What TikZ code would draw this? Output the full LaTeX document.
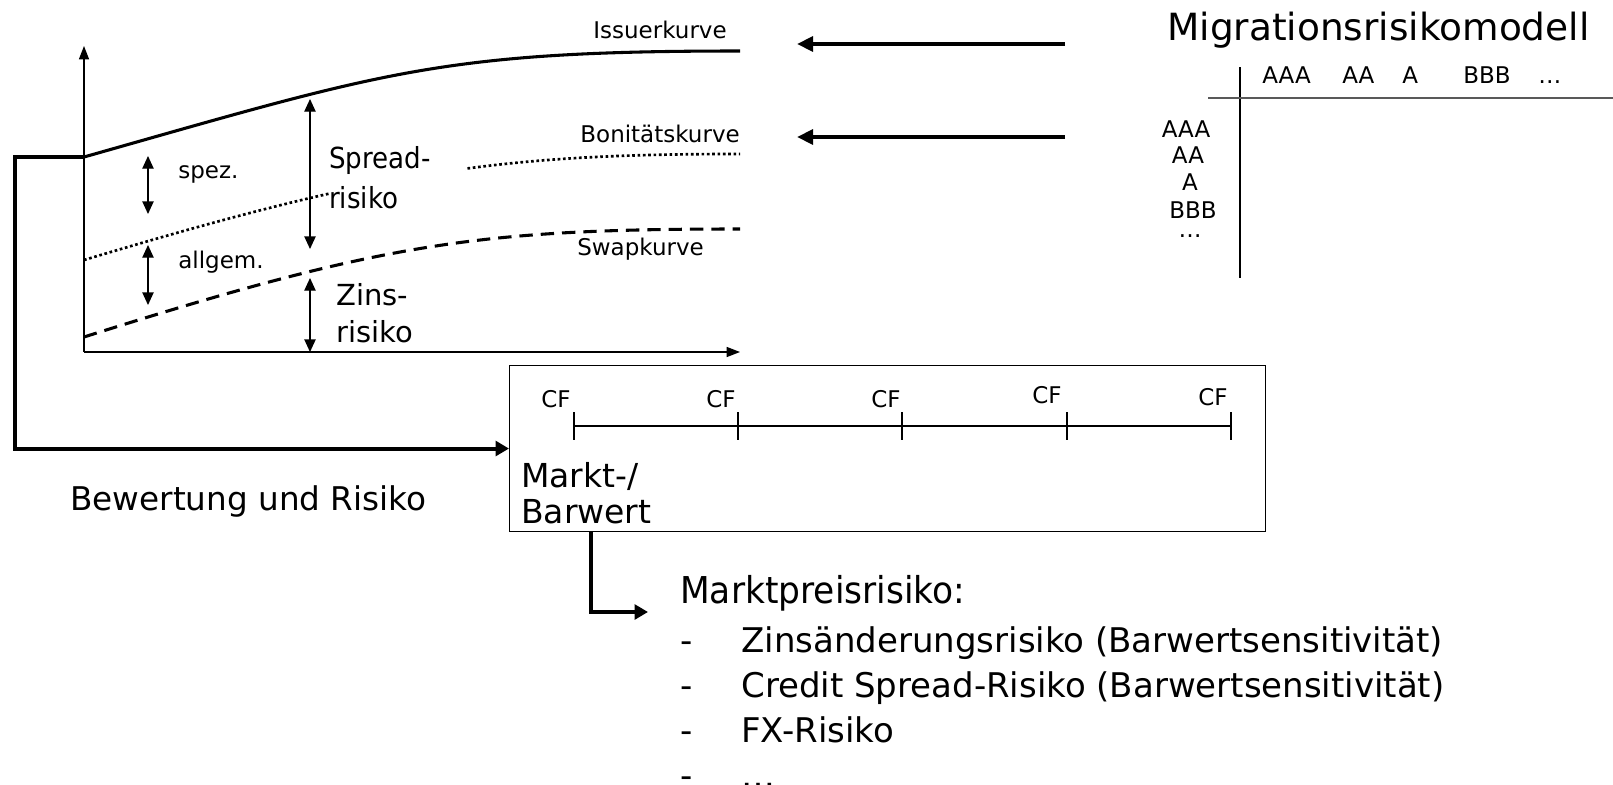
\documentclass[tikz,border=0pt]{standalone}
\usepackage{fontspec}
\setmainfont{DejaVu Sans}
\newfontfamily\narrowfont[FakeStretch=0.9]{DejaVu Sans}
\newfontfamily\slimfont[FakeStretch=0.93]{DejaVu Sans}
\usetikzlibrary{arrows.meta}
\definecolor{rulegray}{HTML}{595959}
\begin{document}
\begin{tikzpicture}[x=0.75pt,y=-0.75pt,
  lbl/.style={inner sep=0pt,anchor=base west},
  ctr/.style={inner sep=0pt,anchor=base},
  dots/.style={text height=4pt,text depth=0pt},
  fsmall/.style={font=\fontsize{17.25pt}{20pt}\selectfont},
  fmid/.style={font=\fontsize{21.75pt}{30pt}\selectfont},
  fbig/.style={font=\fontsize{25.5pt}{30pt}\selectfont},
  axisline/.style={line width=1pt,-{Triangle[length=10pt,width=7.5pt]}},
  twohead/.style={line width=1pt,{Triangle[length=9.5pt,width=8.5pt]}-{Triangle[length=9.5pt,width=8.5pt]}},
  flow/.style={line width=3pt,-{Triangle[length=10pt,width=11pt]}},
  feed/.style={line width=3pt,-{Triangle[length=12pt,width=11pt]}},
  issuer/.style={line width=2.3pt},
  bonit/.style={line width=2pt,dash pattern=on 2pt off 2pt},
  swapline/.style={line width=2.3pt,dash pattern=on 10pt off 6pt}]
\useasboundingbox (0,0) rectangle (1613,785);

% axes
\coordinate (O) at (84,352);
\coordinate (ytop) at (84,46);
\coordinate (xend) at (740,352);
\draw[axisline] (O) -- (ytop);
\draw[axisline] (O) -- (xend);

% yield curves
\coordinate (iss0) at (84,157);
\coordinate (iss1) at (740,51);
\coordinate (bon0) at (84,260);
\coordinate (bon1) at (740,154);
\coordinate (swp0) at (84,337);
\coordinate (swp1) at (740,229);
\draw[issuer] (iss0) .. controls (384,72) and (440,51) .. (iss1);
\draw[bonit] (bon0) .. controls (384,170) and (500,154) .. (bon1);
\draw[swapline] (swp0) .. controls (384,242) and (480,229) .. (swp1);

\node[lbl,fsmall,anchor=base east] (issL) at (727,38) {Issuerkurve};
\node[lbl,fsmall,anchor=base east] (bonL) at (740,142) {Bonitätskurve};
\node[lbl,fsmall] (swpL) at (577,255) {Swapkurve};

% risk components
\coordinate (sp0) at (310,99);
\coordinate (sp1) at (310,249);
\coordinate (zi0) at (310,278);
\coordinate (zi1) at (310,352);
\coordinate (sz0) at (148,156);
\coordinate (sz1) at (148,214);
\coordinate (al0) at (148,245);
\coordinate (al1) at (148,305);
\draw[twohead] (sp0) -- (sp1);
\draw[twohead] (zi0) -- (zi1);
\draw[twohead] (sz0) -- (sz1);
\draw[twohead] (al0) -- (al1);

\node[lbl,fsmall] (spez) at (178,178) {spez.};
\node[lbl,fsmall] (allg) at (178,268) {allgem.};
\node[font={\narrowfont\fontsize{21.75pt}{30pt}\selectfont},fill=white,
      inner xsep=0pt,inner ysep=2pt,anchor=base west,
      text width=102pt,align=left] (spread) at (329,168) {Spread-\\risiko};
\node[lbl,fmid] (zins1) at (336,305) {Zins-};
\node[lbl,fmid] (zins2) at (336,342) {risiko};

% valuation box with cash flows
\node[draw,line width=0.8pt,inner sep=0pt,anchor=north west,
      minimum width=567pt,minimum height=124.5pt] (box) at (509,365) {};
\coordinate (t0) at (574,426);
\coordinate (t4) at (1231,426);
\draw[line width=0.8pt] (t0) -- (t4);
\foreach \tx in {574,738,902,1067,1231}
  \draw[line width=0.8pt] (\tx,412) -- (\tx,440);
\node[ctr,fsmall] (cf0) at (556,407) {CF};
\node[ctr,fsmall] (cf1) at (721,407) {CF};
\node[ctr,fsmall] (cf2) at (886,407) {CF};
\node[ctr,fsmall] (cf3) at (1047,403) {CF};
\node[ctr,fsmall] (cf4) at (1213,405) {CF};
\node[lbl,font=\fontsize{24.75pt}{30pt}\selectfont] (mw1) at (521,487) {Markt-/};
\node[lbl,font=\fontsize{24.75pt}{30pt}\selectfont] (mw2) at (521,523) {Barwert};

\node[lbl,font=\fontsize{24.5pt}{28pt}\selectfont] (bew) at (70,510) {Bewertung und Risiko};
\draw[flow] (iss0) -- (15,157) |- (box.west);

% migration model
\node[lbl,font=\fontsize{28.1pt}{34pt}\selectfont] (mig) at (1167,40) {Migrationsrisikomodell};
\coordinate (m1a) at (1065,44);
\coordinate (m1b) at (797,44);
\coordinate (m2a) at (1065,137);
\coordinate (m2b) at (797,137);
\draw[feed] (m1a) -- (m1b);
\draw[feed] (m2a) -- (m2b);
\coordinate (mv0) at (1240,67);
\coordinate (mv1) at (1240,278);
\coordinate (mh0) at (1208,98);
\coordinate (mh1) at (1613,98);
\draw[line width=1.1pt] (mv0) -- (mv1);
\draw[rulegray,line width=1.6pt] (mh0) -- (mh1);
\node[lbl,fsmall] (c1) at (1262,83) {AAA};
\node[lbl,fsmall] (c2) at (1342,83) {AA};
\node[lbl,fsmall] (c3) at (1402,83) {A};
\node[lbl,fsmall] (c4) at (1463,83) {BBB};
\node[lbl,fsmall,dots] (c5) at (1538,83) {…};
\node[ctr,fsmall] (r1) at (1186,137) {AAA};
\node[ctr,fsmall] (r2) at (1188,163) {AA};
\node[ctr,fsmall] (r3) at (1190,190) {A};
\node[ctr,fsmall] (r4) at (1193,218) {BBB};
\node[ctr,fsmall,dots] (r5) at (1190,237) {…};

% market risk
\coordinate (l0) at (591,531);
\coordinate (l1) at (648,612);
\draw[flow] (l0) |- (l1);
\node[lbl,font={\slimfont\fontsize{27.75pt}{34pt}\selectfont}] (mpr) at (680,603) {Marktpreisrisiko:};
\node[lbl,fbig] (d1) at (680,652) {-};
\node[lbl,fbig] (i1) at (741,652) {Zinsänderungsrisiko (Barwertsensitivität)};
\node[lbl,fbig] (d2) at (680,697) {-};
\node[lbl,fbig] (i2) at (741,697) {Credit Spread-Risiko (Barwertsensitivität)};
\node[lbl,fbig] (d3) at (680,742) {-};
\node[lbl,fbig] (i3) at (741,742) {FX-Risiko};
\node[lbl,fbig] (d4) at (680,787) {-};
\node[lbl,fbig,dots] (i4) at (741,787) {…};
\end{tikzpicture}
\end{document}
